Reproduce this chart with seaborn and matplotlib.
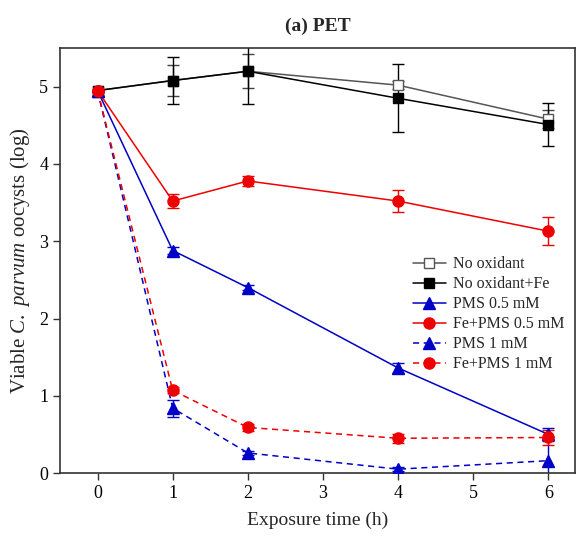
import numpy as np
import pandas as pd
import matplotlib
matplotlib.use("Agg")
import matplotlib.pyplot as plt
import seaborn as sns

# Exposure times (h)
time_h = [0, 1, 2, 4, 6]

# Viable C. parvum oocysts (log) and standard deviations for each treatment
no_ox = [4.95, 5.08, 5.20, 5.02, 4.58]
no_ox_err = [0.0, 0.20, 0.22, 0.05, 0.12]

no_ox_fe = [4.95, 5.08, 5.20, 4.85, 4.51]
no_ox_fe_err = [0.0, 0.30, 0.42, 0.44, 0.28]

pms_05 = [4.95, 2.88, 2.40, 1.36, 0.50]
pms_05_err = [0.0, 0.04, 0.03, 0.07, 0.08]

fe_pms_05 = [4.95, 3.52, 3.78, 3.52, 3.13]
fe_pms_05_err = [0.0, 0.09, 0.07, 0.14, 0.18]

pms_1 = [4.95, 0.84, 0.26, 0.05, 0.16]
pms_1_err = [0.0, 0.11, 0.03, 0.03, 0.30]

fe_pms_1 = [4.95, 1.07, 0.59, 0.45, 0.46]
fe_pms_1_err = [0.0, 0.04, 0.05, 0.06, 0.10]

labels = ["No oxidant", "No oxidant+Fe", "PMS 0.5 mM",
          "Fe+PMS 0.5 mM", "PMS 1 mM", "Fe+PMS 1 mM"]
values = [no_ox, no_ox_fe, pms_05, fe_pms_05, pms_1, fe_pms_1]
errors = [no_ox_err, no_ox_fe_err, pms_05_err, fe_pms_05_err, pms_1_err, fe_pms_1_err]

RED = "#ee0000"
BLUE = "#0000c8"
styles = [
    dict(color="#555555", marker="s", ls="-", mfc="white", mec="#555555", ms=7, ecolor="#444444"),
    dict(color="black", marker="s", ls="-", mfc="black", mec="black", ms=7, ecolor="black"),
    dict(color=BLUE, marker="^", ls="-", mfc=BLUE, mec=BLUE, ms=8, ecolor=BLUE),
    dict(color=RED, marker="o", ls="-", mfc=RED, mec=RED, ms=8, ecolor=RED),
    dict(color=BLUE, marker="^", ls=(0, (4, 3)), mfc=BLUE, mec=BLUE, ms=8, ecolor=BLUE),
    dict(color=RED, marker="o", ls=(0, (4, 3)), mfc=RED, mec=RED, ms=8, ecolor=RED),
]

rows = []
for lab, vals, errs in zip(labels, values, errors):
    for t, v, e in zip(time_h, vals, errs):
        rows.append(dict(series=lab, time=t, value=v, err=e))
df = pd.DataFrame(rows)

sns.set_style("ticks")
plt.rcParams["font.family"] = ["Liberation Serif", "DejaVu Serif"]
plt.rcParams["mathtext.fontset"] = "custom"
plt.rcParams["mathtext.it"] = "Liberation Serif:italic"
plt.rcParams["mathtext.rm"] = "Liberation Serif"

fig = plt.figure(figsize=(5.79, 5.40), dpi=100)
ax = fig.add_axes([0.1036, 0.124, 0.889, 0.787])

for lab, st in zip(labels, styles):
    sub = df[df["series"] == lab]
    ax.errorbar(sub["time"], sub["value"], yerr=sub["err"], fmt="none",
                ecolor=st["ecolor"], elinewidth=1.0, capsize=4, capthick=1.0, zorder=2)
    sns.lineplot(data=sub, x="time", y="value", ax=ax, color=st["color"],
                 marker=st["marker"], linestyle=st["ls"], linewidth=1.1,
                 markersize=st["ms"], markerfacecolor=st["mfc"],
                 markeredgecolor=st["mec"], markeredgewidth=1.0,
                 label=lab, zorder=3, errorbar=None)

ax.set_xlim(-0.5, 6.35)
ax.set_ylim(0, 5.5)
ax.set_xticks(range(0, 7))
ax.set_yticks(range(0, 6))
ax.tick_params(axis="both", direction="out", length=5, width=1.0,
               labelsize=13, colors="#333333", labelcolor="black")
for sp in ax.spines.values():
    sp.set_color("#333333")
    sp.set_linewidth(1.2)

ax.set_xlabel("Exposure time (h)", fontsize=14, labelpad=7)
ax.set_ylabel(r"Viable $\it{C.}$ $\it{parvum}$ oocysts (log)", fontsize=15, labelpad=5)
ax.set_title("(a) PET", fontsize=14, fontweight="bold", pad=12)

leg = ax.legend(loc="upper left", bbox_to_anchor=(0.685, 0.51), frameon=False,
                fontsize=11.5, handlelength=2.1, handletextpad=0.4,
                labelspacing=0.25, borderpad=0, borderaxespad=0)

fig.savefig("out.png", dpi=100)
